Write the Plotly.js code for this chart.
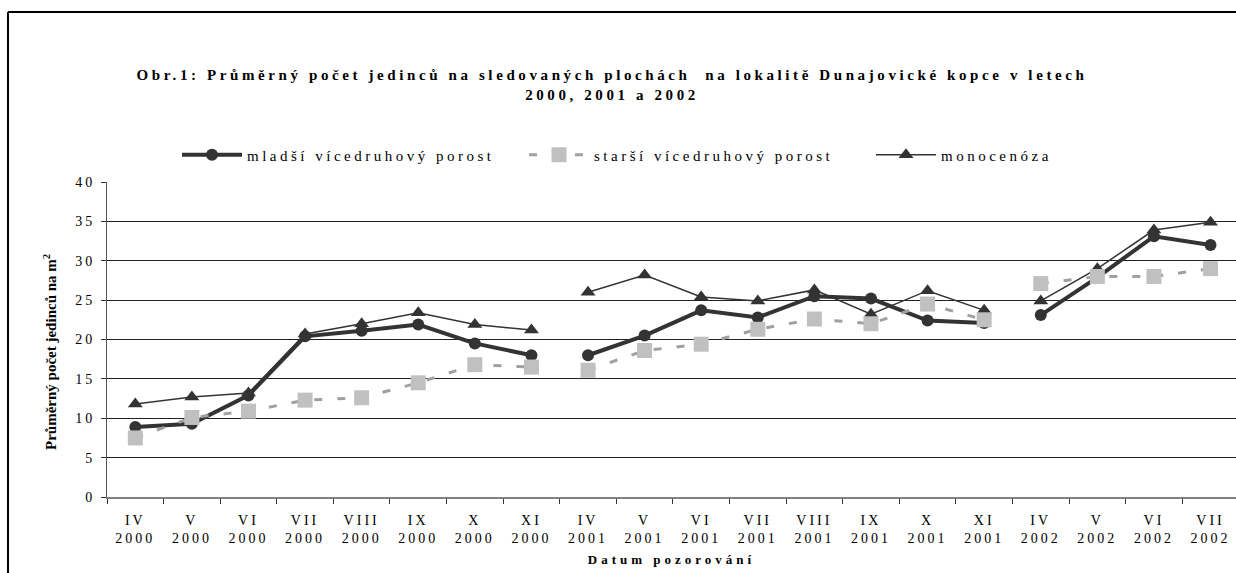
<!DOCTYPE html>
<html>
<head>
<meta charset="utf-8">
<script src="https://cdn.plot.ly/plotly-3.0.1.min.js"></script>
<style>
  html, body { margin: 0; padding: 0; background: #fff; }
  #chart { width: 1236px; height: 573px; }
  .gtitle { letter-spacing: 3.6px; }
  .xtick text, .ytick text { letter-spacing: 3px; }
  .legendtext { letter-spacing: 3.5px; }
  .xtitle { letter-spacing: 4px; }
</style>
</head>
<body>
<div id="chart"></div>
<script>
// ---- data ----
const months = ['IV','V','VI','VII','VIII','IX','X','XI','IV','V','VI','VII','VIII','IX','X','XI','IV','V','VI','VII'];
const years  = ['2000','2000','2000','2000','2000','2000','2000','2000','2001','2001','2001','2001','2001','2001','2001','2001','2002','2002','2002','2002'];
const seriesNames = ['mladší vícedruhový porost', 'starší vícedruhový porost', 'monocenóza'];
const mladsi = [8.9, 9.3, 12.9, 20.4, 21.1, 21.9, 19.5, 18.0, 18.0, 20.5, 23.7, 22.8, 25.5, 25.2, 22.4, 22.1, 23.1, 27.9, 33.1, 32.0];
const starsi = [7.5, 10.1, 10.9, 12.3, 12.6, 14.5, 16.8, 16.5, 16.1, 18.6, 19.4, 21.3, 22.6, 22.0, 24.5, 22.5, 27.1, 28.0, 28.0, 29.0];
const mono   = [11.8, 12.7, 13.2, 20.7, 22.0, 23.4, 21.9, 21.2, 26.0, 28.2, 25.4, 24.9, 26.3, 23.2, 26.2, 23.7, 24.9, 29.0, 33.9, 34.9];
const titleText = 'Obr.1: Průměrný počet jedinců na sledovaných plochách  na lokalitě Dunajovické kopce v letech<br>2000, 2001 a 2002';
const xTitle = 'Datum pozorování';
const yTitle = 'Průměrný počet jedinců na m<sup>2</sup>';

// ---- build ----
const categories = months.map((m, i) => m + '<br>' + years[i]);
const uniqueYears = [...new Set(years)];

const styles = [
  { mode: 'lines+markers', line: { color: '#333333', width: 4 }, marker: { symbol: 'circle', size: 12, color: '#333333' } },
  { mode: 'lines+markers', line: { color: '#a0a0a0', width: 3, dash: '8px,15px' }, marker: { symbol: 'square', size: 15, color: '#c0c0c0' } },
  { mode: 'lines+markers', line: { color: '#333333', width: 1.5 }, marker: { symbol: 'triangle-up', size: 13, color: '#333333' } }
];
const seriesValues = [mladsi, starsi, mono];
const drawOrder = [0, 2, 1];

const traces = [];
drawOrder.forEach(s => {
  uniqueYears.forEach((yr, k) => {
    const idx = years.map((y, i) => y === yr ? i : -1).filter(i => i >= 0);
    traces.push(Object.assign({
      type: 'scatter',
      x: idx.map(i => categories[i]),
      y: idx.map(i => seriesValues[s][i]),
      name: seriesNames[s],
      legendgroup: 'g' + s,
      legendrank: s + 1,
      showlegend: k === 0,
      hoverinfo: 'x+y+name'
    }, JSON.parse(JSON.stringify(styles[s]))));
  });
});

const W = 1236, H = 573, ml = 107, mr = 0, mt = 182, mb = 76;
const pw = W - ml - mr, ph = H - mt - mb;
const px = v => (v - ml) / pw;
const py = v => (H - mb - v) / ph;

const font = 'Liberation Serif, Times New Roman, serif';

const layout = {
  width: W, height: H,
  margin: { l: ml, r: mr, t: mt, b: mb, pad: 0 },
  paper_bgcolor: '#ffffff', plot_bgcolor: '#ffffff',
  font: { family: font, color: '#000000', size: 12 },
  title: {
    text: titleText,
    font: { family: font, size: 15, color: '#000', weight: 'bold' },
    x: 612 / W, xanchor: 'center', xref: 'container',
    y: 1 - 80 / H, yanchor: 'top', yref: 'container'
  },
  showlegend: true,
  legend: {
    orientation: 'h', x: px(177), xanchor: 'left', y: py(155), yanchor: 'middle',
    font: { family: font, size: 15, color: '#000' },
    itemwidth: 60, entrywidth: 272,
    traceorder: 'normal', bgcolor: 'rgba(0,0,0,0)'
  },
  xaxis: {
    type: 'category',
    categoryorder: 'array', categoryarray: categories,
    range: [-0.5, 19.45],
    showgrid: false, zeroline: false,
    showline: true, linecolor: '#808080', linewidth: 1.5,
    ticks: 'outside', tickson: 'boundaries', ticklen: 5, tickcolor: '#333', tickwidth: 1,
    tickfont: { family: font, size: 14, color: '#000' },
    ticklabelstandoff: 9,
    fixedrange: true,
    title: { text: xTitle, font: { family: font, size: 13, color: '#000', weight: 'bold' }, standoff: 10 }
  },
  yaxis: {
    range: [0, 40], dtick: 5, tick0: 0,
    showgrid: true, gridcolor: '#222', gridwidth: 1,
    zeroline: false,
    showline: true, linecolor: '#555', linewidth: 1,
    ticks: 'outside', ticklen: 5, tickcolor: '#333',
    tickfont: { family: font, size: 14, color: '#000' },
    ticklabelstandoff: 3,
    fixedrange: true
  },
  annotations: [
    { text: yTitle, xref: 'paper', yref: 'paper', x: px(50), y: py(352), xanchor: 'center', yanchor: 'middle',
      textangle: -90, showarrow: false, font: { family: font, size: 15, color: '#000', weight: 'bold' } }
  ],
  shapes: [
    { type: 'line', xref: 'paper', yref: 'paper', x0: px(8), x1: px(1236), y0: py(12), y1: py(12), line: { color: '#000', width: 2 } },
    { type: 'line', xref: 'paper', yref: 'paper', x0: px(8), x1: px(8), y0: py(12), y1: py(573), line: { color: '#000', width: 2 } }
  ]
};

Plotly.newPlot('chart', traces, layout, { displayModeBar: false });
</script>
</body>
</html>
